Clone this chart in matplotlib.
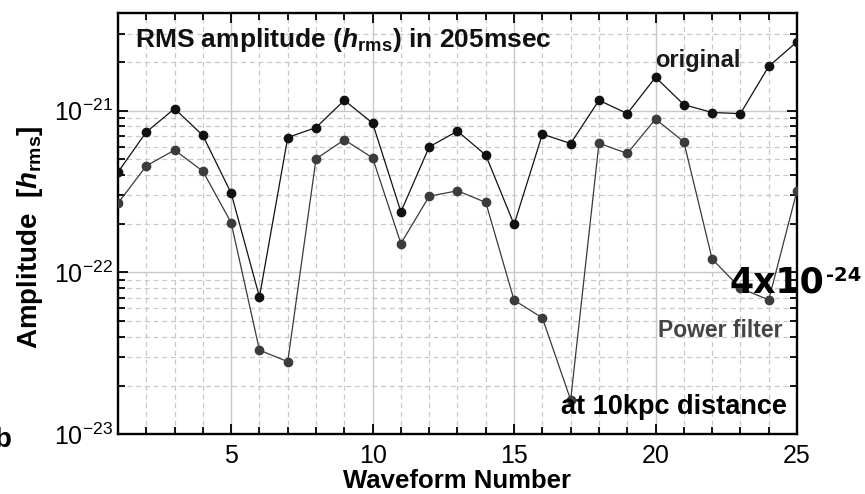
import numpy as np
import matplotlib
matplotlib.use('Agg')
import matplotlib.pyplot as plt
from matplotlib.ticker import LogLocator, FixedLocator, NullFormatter

plt.rcParams['font.family'] = 'Liberation Sans'
plt.rcParams['mathtext.fontset'] = 'custom'
plt.rcParams['mathtext.rm'] = 'Liberation Sans'
plt.rcParams['mathtext.it'] = 'Liberation Sans:italic:bold'
plt.rcParams['mathtext.bf'] = 'Liberation Sans:bold'

# Data
waveform = np.arange(1, 26)
h_original = [4.17e-22, 7.38e-22, 1.03e-21, 7.03e-22, 3.09e-22, 7.06e-23, 6.83e-22,
              7.87e-22, 1.16e-21, 8.38e-22, 2.37e-22, 5.98e-22, 7.48e-22, 5.31e-22,
              1.98e-22, 7.17e-22, 6.27e-22, 1.16e-21, 9.6e-22, 1.61e-21, 1.09e-21,
              9.75e-22, 9.6e-22, 1.88e-21, 2.67e-21]
h_power = [2.68e-22, 4.56e-22, 5.71e-22, 4.23e-22, 2.03e-22, 3.31e-23, 2.81e-23,
           5.04e-22, 6.61e-22, 5.11e-22, 1.51e-22, 2.96e-22, 3.2e-22, 2.71e-22,
           6.74e-23, 5.24e-23, 1.63e-23, 6.3e-22, 5.44e-22, 8.88e-22, 6.42e-22,
           1.21e-22, 8.0e-23, 6.77e-23, 3.2e-22]
y_decades = [1e-23, 1e-22, 1e-21]

fig = plt.figure(figsize=(8.65, 4.94), dpi=100)
ax = fig.add_axes([0.1364, 0.121, 0.785, 0.852])

ax.plot(waveform, h_original, color='#111111', lw=0.9, marker='o', ms=6,
        mfc='#111111', mec='#111111', zorder=3)
ax.plot(waveform, h_power, color='#3a3a3a', lw=0.9, marker='o', ms=6,
        mfc='#3c3c3c', mec='#3c3c3c', zorder=3)

ax.set_yscale('log')
ax.set_xlim(1, 25)
ax.set_ylim(1e-23, 4e-21)

ax.xaxis.set_major_locator(FixedLocator([5, 10, 15, 20, 25]))
ax.xaxis.set_minor_locator(FixedLocator(np.arange(1, 26)))
ax.yaxis.set_major_locator(FixedLocator(y_decades))
ax.yaxis.set_minor_locator(LogLocator(base=10, subs=np.arange(2, 10), numticks=20))
ax.yaxis.set_minor_formatter(NullFormatter())

ax.grid(which='major', color='#c8c8c8', lw=1.0, ls='-', zorder=0)
ax.grid(which='minor', color='#c8c8c8', lw=0.9, ls=(0, (4, 3)), zorder=0)
ax.set_axisbelow(True)

ax.tick_params(which='both', direction='in', top=True, right=True, width=1.3,
               labelsize=18)
ax.tick_params(axis='x', pad=7)
ax.tick_params(axis='y', pad=4)
ax.tick_params(which='major', length=7)
ax.tick_params(which='minor', length=4.8)
for s in ax.spines.values():
    s.set_linewidth(1.7)

ax.set_xlabel('Waveform Number', fontsize=18.5, fontweight='bold', labelpad=1)
ax.set_ylabel(r'Amplitude  [$h_{\mathdefault{rms}}$]', fontsize=20, fontweight='bold')
ax.yaxis.set_label_coords(-0.107, 0.467)

ax.text(0.025, 0.921, r'RMS amplitude ($h_{\mathdefault{rms}}$) in 205msec',
        transform=ax.transAxes, fontsize=19, fontweight='bold', va='baseline',
        color='#111111')
ax.text(0.9175, 0.873, 'original', transform=ax.transAxes, fontsize=17,
        fontweight='bold', ha='right', va='baseline', color='#1a1a1a')
ax.text(0.979, 0.232, 'Power filter', transform=ax.transAxes, fontsize=16.5,
        fontweight='bold', ha='right', va='baseline', color='#444444')
ax.text(0.985, 0.048, 'at 10kpc distance', transform=ax.transAxes, fontsize=19.5,
        fontweight='bold', ha='right', va='baseline', color='black')

t1 = ax.text(22.63, 7.48e-23, '4x10', fontsize=25, fontweight='bold',
             family='DejaVu Sans', va='baseline', ha='left', color='black',
             clip_on=False, zorder=5)
ax.annotate('-24', xy=(1, 1), xycoords=t1, xytext=(1, 0), textcoords='offset points',
            fontsize=14, fontweight='bold', family='DejaVu Sans', va='top', ha='left',
            color='black', annotation_clip=False, zorder=5)

fig.text(11 / 865, 0.095, 'b', fontsize=20, fontweight='bold', ha='right',
         va='baseline')

fig.savefig('out.png', dpi=100)
